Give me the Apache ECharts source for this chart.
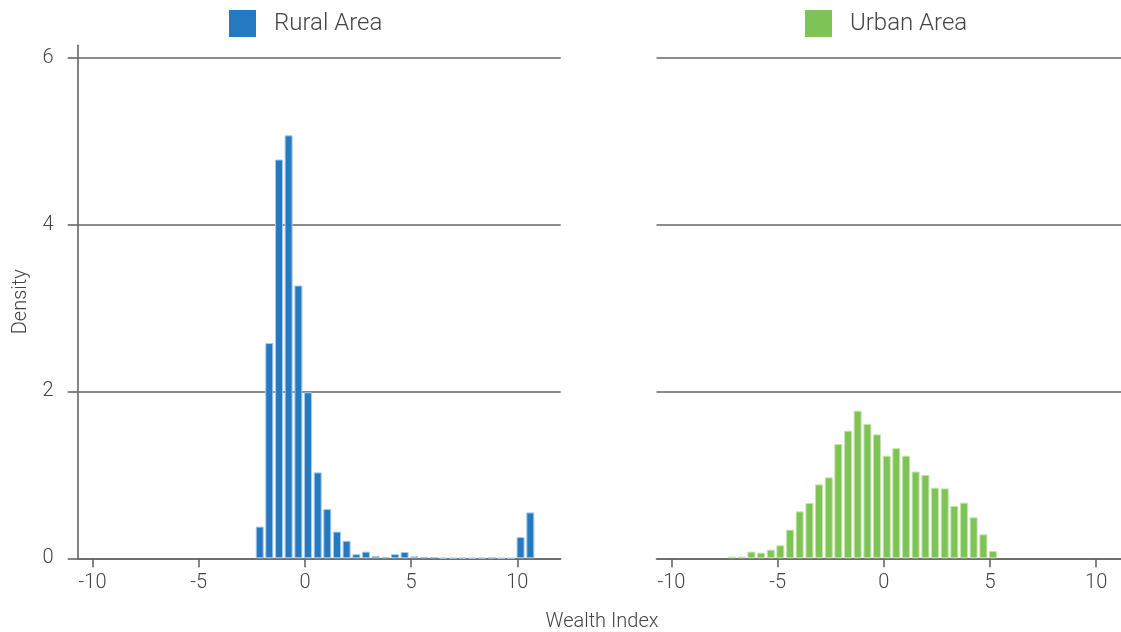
<!DOCTYPE html>
<html>
<head>
    <meta charset="utf-8">
    <script src="https://cdn.jsdelivr.net/npm/echarts@6/dist/echarts.min.js"></script>
    <title>Wealth Index</title>
    <style>
        html, body { margin: 0; padding: 0; background: #fff; }
    </style>
</head>
<body>
    <div id="main" style="width:1121px;height:632px;"></div>
    <script type="text/javascript">
        // bin centres (wealth index) and densities
        var ruralBins = [-2.13, -1.68, -1.22, -0.77, -0.31, 0.14, 0.60, 1.05, 1.51, 1.96,
            2.42, 2.87, 3.33, 3.78, 4.24, 4.69, 5.15, 5.60, 6.06, 6.51,
            6.97, 7.42, 7.88, 8.33, 8.79, 9.24, 9.70, 10.15, 10.61];
        var ruralDensity = [0.38, 2.58, 4.78, 5.07, 3.27, 1.99, 1.03, 0.59, 0.32, 0.21,
            0.05, 0.08, 0.03, 0.016, 0.05, 0.076, 0.024, 0.016, 0.016, 0.004,
            0.004, 0.004, 0.002, 0.004, 0.008, 0.002, 0.002, 0.255, 0.55];

        var urbanBins = [-7.14, -6.69, -6.23, -5.78, -5.32, -4.87, -4.41, -3.96, -3.50, -3.05,
            -2.59, -2.14, -1.68, -1.23, -0.77, -0.32, 0.14, 0.59, 1.05, 1.50,
            1.96, 2.41, 2.87, 3.32, 3.78, 4.23, 4.69, 5.14];
        var urbanDensity = [0.02, 0.02, 0.08, 0.068, 0.104, 0.156, 0.343, 0.563, 0.663, 0.886,
            0.97, 1.37, 1.53, 1.77, 1.61, 1.485, 1.23, 1.32, 1.23, 1.04,
            1.0, 0.846, 0.838, 0.627, 0.667, 0.491, 0.287, 0.088];

        var xTicks = [-10, -5, 0, 5, 10];
        var yTicks = [0, 2, 4, 6];

        var font = 'Roboto';
        var textColor = '#444';
        var lineColor = '#666';

        function pairs(xs, ys) {
            return xs.map(function (x, i) { return [x, ys[i]]; });
        }

        function makeXAxis(idx) {
            return {
                type: 'value',
                gridIndex: idx,
                min: -10.7,
                max: 12.04,
                axisLine: { show: true, lineStyle: { color: lineColor, width: 1.6 } },
                axisTick: { show: true, length: 9, customValues: xTicks, lineStyle: { color: lineColor, width: 1.6 } },
                axisLabel: { customValues: xTicks, margin: 15, color: textColor, fontSize: 20, fontFamily: font, fontWeight: 300 },
                splitLine: { show: false }
            };
        }

        function makeYAxis(idx, showAxis) {
            return {
                type: 'value',
                gridIndex: idx,
                min: 0,
                max: 6.15,
                interval: 2,
                name: showAxis ? 'Density' : '',
                nameLocation: 'middle',
                nameGap: 47,
                nameRotate: 90,
                nameTextStyle: { color: textColor, fontSize: 20, fontFamily: font, fontWeight: 300 },
                axisLine: { show: showAxis, onZero: false, lineStyle: { color: lineColor, width: 1.6 } },
                axisTick: { show: showAxis, length: 10, customValues: yTicks, lineStyle: { color: lineColor, width: 1.6 } },
                axisLabel: { show: showAxis, customValues: yTicks, margin: 24, color: textColor, fontSize: 20, fontFamily: font, fontWeight: 300 },
                splitLine: { show: true, showMinLine: true, showMaxLine: true, lineStyle: { color: lineColor, width: 1.6 } }
            };
        }

        var myChart = echarts.init(document.getElementById('main'));

        var legendText = { color: textColor, fontSize: 24, fontFamily: font, fontWeight: 300, padding: [0, 0, 0, 13] };

        var option = {
            animation: false,
            backgroundColor: '#fff',
            legend: [
                {
                    data: ['Rural Area'],
                    left: 229, top: 10, padding: 0,
                    icon: 'rect', itemWidth: 27, itemHeight: 27,
                    itemStyle: { borderWidth: 0 },
                    textStyle: legendText
                },
                {
                    data: ['Urban Area'],
                    left: 805, top: 10, padding: 0,
                    icon: 'rect', itemWidth: 27, itemHeight: 27,
                    itemStyle: { borderWidth: 0 },
                    textStyle: legendText
                }
            ],
            grid: [
                { left: 77.7, top: 45.2, width: 483, bottom: 73.7, outerBoundsMode: 'none' },
                { left: 656.5, top: 45.2, width: 483, bottom: 73.7, outerBoundsMode: 'none' }
            ],
            xAxis: [makeXAxis(0), makeXAxis(1)],
            yAxis: [makeYAxis(0, true), makeYAxis(1, false)],
            graphic: [
                {
                    type: 'text',
                    x: 602, y: 622,
                    style: {
                        text: 'Wealth Index', fill: textColor, fontSize: 20, fontFamily: font, fontWeight: 300,
                        align: 'center', verticalAlign: 'middle'
                    }
                }
            ],
            series: [
                {
                    name: 'Rural Area',
                    type: 'bar',
                    xAxisIndex: 0,
                    yAxisIndex: 0,
                    barWidth: 8,
                    data: pairs(ruralBins, ruralDensity),
                    itemStyle: { color: '#2479c1', borderColor: '#a8cbeb', borderWidth: 1 }
                },
                {
                    name: 'Urban Area',
                    type: 'bar',
                    xAxisIndex: 1,
                    yAxisIndex: 1,
                    barWidth: 8,
                    data: pairs(urbanBins, urbanDensity),
                    itemStyle: { color: '#7ec356', borderColor: '#c4e6ad', borderWidth: 1 }
                }
            ]
        };

        myChart.setOption(option);
    </script>
</body>
</html>
